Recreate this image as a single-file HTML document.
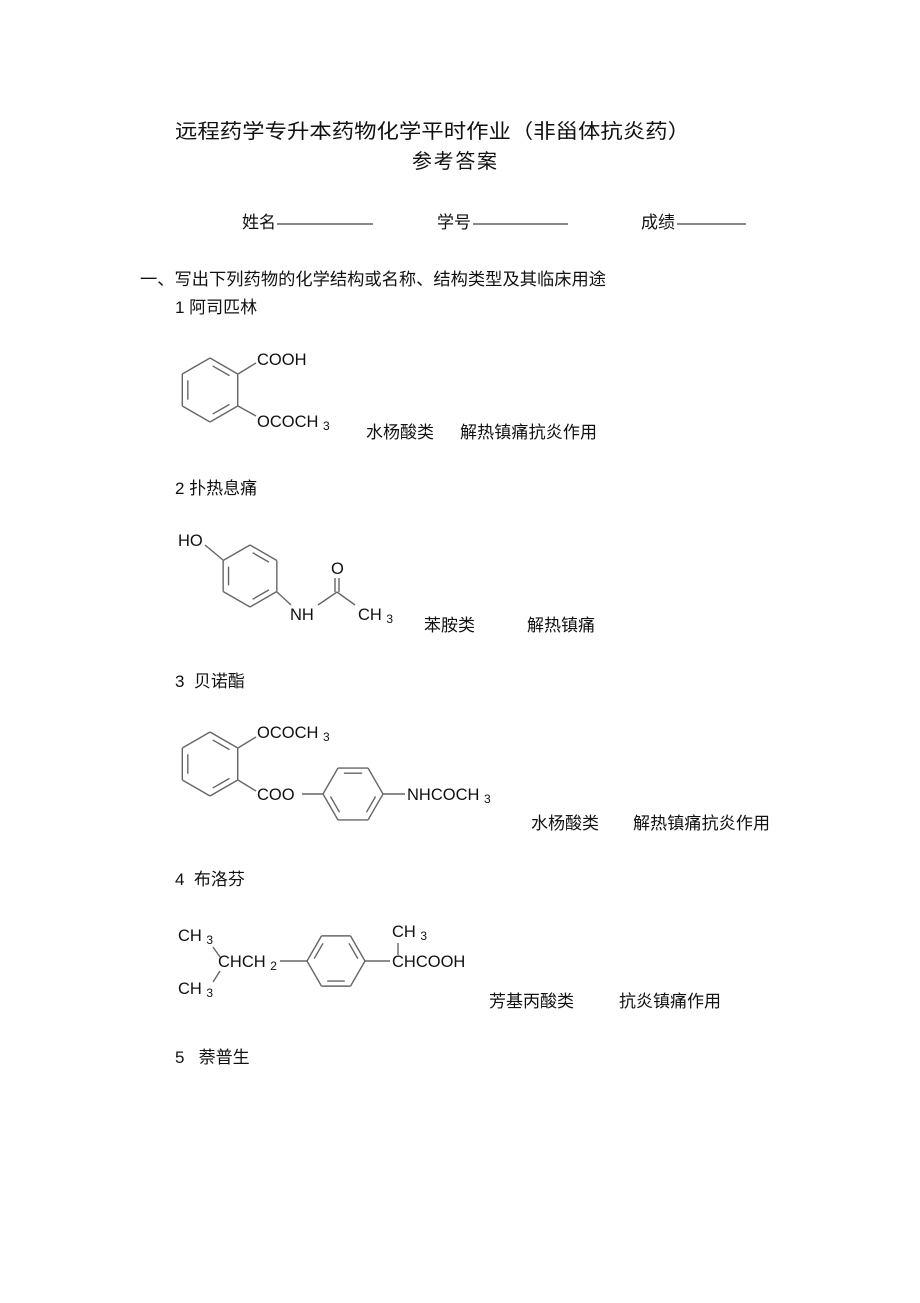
<!DOCTYPE html>
<html><head><meta charset="utf-8"><style>
html,body{margin:0;padding:0;background:#fff;}
svg{display:block;}
text{font-family:"Liberation Sans","Noto Sans CJK SC",sans-serif;fill:#111;}
.cn{font-size:17px;}
.ch{font-size:16.5px;}
.sub{font-size:12px;}
</style></head><body>
<svg id="s" width="920" height="1303" viewBox="0 0 920 1303" xmlns="http://www.w3.org/2000/svg">
<g stroke="#111" stroke-width="1">
<line x1="277" y1="224" x2="373" y2="224"/>
<line x1="473" y1="224" x2="568" y2="224"/>
<line x1="677" y1="224" x2="746" y2="224"/>
</g>
<text x="175" y="138" style="font-size:20px" textLength="515" lengthAdjust="spacingAndGlyphs">远程药学专升本药物化学平时作业（非甾体抗炎药）</text>
<text x="412" y="168" style="font-size:20px" textLength="85">参考答案</text>
<text class="cn" x="242" y="228">姓名</text>
<text class="cn" x="437" y="228">学号</text>
<text class="cn" x="641" y="228">成绩</text>
<text class="cn" x="140" y="285" textLength="466" lengthAdjust="spacingAndGlyphs">一、写出下列药物的化学结构或名称、结构类型及其临床用途</text>
<text class="cn" x="175" y="313">1 阿司匹林</text>
<text class="cn" x="366" y="438">水杨酸类</text>
<text class="cn" x="460" y="438" textLength="137">解热镇痛抗炎作用</text>
<text class="cn" x="175" y="494">2 扑热息痛</text>
<text class="cn" x="424" y="631">苯胺类</text>
<text class="cn" x="527" y="631">解热镇痛</text>
<text class="cn" x="175" y="687">3&#160;&#160;贝诺酯</text>
<text class="cn" x="531" y="829">水杨酸类</text>
<text class="cn" x="633" y="829" textLength="137">解热镇痛抗炎作用</text>
<text class="cn" x="175" y="885">4&#160;&#160;布洛芬</text>
<text class="cn" x="489" y="1007">芳基丙酸类</text>
<text class="cn" x="619" y="1007">抗炎镇痛作用</text>
<text class="cn" x="175" y="1063">5&#160;&#160;&#160;萘普生</text>

<text class="ch" x="257" y="365">COOH</text>
<text class="ch" x="257" y="427">OCOCH <tspan class="sub" dy="3">3</tspan></text>
<text class="ch" x="178" y="546">HO</text>
<text class="ch" x="290" y="620">NH</text>
<text class="ch" x="331" y="574">O</text>
<text class="ch" x="358" y="620">CH <tspan class="sub" dy="3">3</tspan></text>
<text class="ch" x="257" y="738">OCOCH <tspan class="sub" dy="3">3</tspan></text>
<text class="ch" x="257" y="800">COO</text>
<text class="ch" x="407" y="800">NHCOCH <tspan class="sub" dy="3">3</tspan></text>
<text class="ch" x="178" y="941">CH <tspan class="sub" dy="3">3</tspan></text>
<text class="ch" x="218" y="967">CHCH <tspan class="sub" dy="3">2</tspan></text>
<text class="ch" x="178" y="994">CH <tspan class="sub" dy="3">3</tspan></text>
<text class="ch" x="392" y="937">CH <tspan class="sub" dy="3">3</tspan></text>
<text class="ch" x="392" y="967">CHCOOH</text>
<g id="b" stroke="#666" stroke-width="1.4" fill="none">
<line x1="238" y1="374" x2="256" y2="363"/>
<line x1="238" y1="406" x2="256" y2="416"/>
<line x1="205" y1="545" x2="223" y2="560"/>
<line x1="277" y1="592" x2="291" y2="605"/>
<line x1="318" y1="605" x2="337" y2="592"/>
<line x1="337" y1="592" x2="355" y2="605"/>
<line x1="335" y1="592" x2="335" y2="578"/>
<line x1="339" y1="592" x2="339" y2="578"/>
<line x1="238" y1="748" x2="256" y2="737"/>
<line x1="238" y1="780" x2="256" y2="791"/>
<line x1="302" y1="794" x2="323" y2="794"/>
<line x1="383" y1="794" x2="405" y2="794"/>
<line x1="213" y1="947" x2="220" y2="957"/>
<line x1="220" y1="971" x2="213" y2="982"/>
<line x1="280" y1="961" x2="307" y2="961"/>
<line x1="365" y1="961" x2="390" y2="961"/>
<line x1="398" y1="943" x2="398" y2="955"/>
</g>
</svg>
<script>
var g=document.getElementById('b');
function L(a,b,c,d){var l=document.createElementNS('http://www.w3.org/2000/svg','line');l.setAttribute('x1',a);l.setAttribute('y1',b);l.setAttribute('x2',c);l.setAttribute('y2',d);g.appendChild(l);}
function hex(cx,cy,r,start,dbl){var v=[];for(var i=0;i<6;i++){var a=(start+60*i)*Math.PI/180;v.push([cx+r*Math.cos(a),cy+r*Math.sin(a)]);}
for(var i=0;i<6;i++){var p=v[i],q=v[(i+1)%6];L(p[0],p[1],q[0],q[1]);}
dbl.forEach(function(i){var p=v[i],q=v[(i+1)%6];var k=0.8;var p2=[cx+k*(p[0]-cx),cy+k*(p[1]-cy)],q2=[cx+k*(q[0]-cx),cy+k*(q[1]-cy)];var t=0.12;L(p2[0]+(q2[0]-p2[0])*t,p2[1]+(q2[1]-p2[1])*t,q2[0]+(p2[0]-q2[0])*t,q2[1]+(p2[1]-q2[1])*t);});}
hex(210,390,32,-90,[0,2,4]);
hex(250,576,31,-90,[0,2,4]);
hex(210,764,32,-90,[0,2,4]);
hex(353,794,30,0,[0,2,4]);
hex(336,961,29,0,[1,3,5]);
</script>
</body></html>
